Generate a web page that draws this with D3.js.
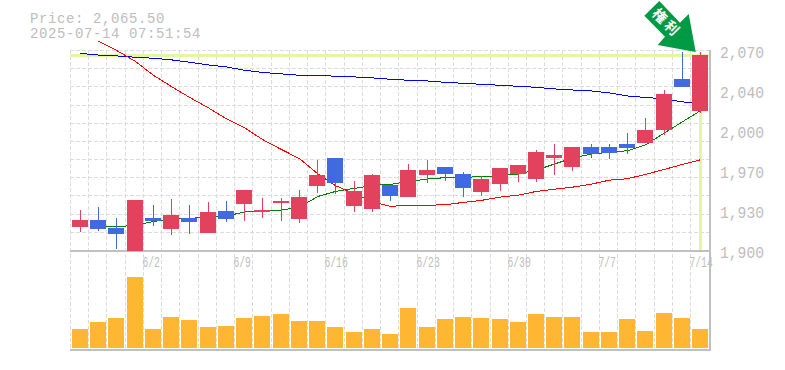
<!DOCTYPE html>
<html>
<head>
<meta charset="utf-8">
<script src="https://d3js.org/d3.v7.min.js"></script>
<style>
body { margin: 0; background: #fff; }
svg { display: block; }
text { font-family: "Liberation Mono", monospace; fill: #bdbdbd; }
</style>
</head>
<body>
<script>
// Data
var dates = ["5/27","5/28","5/29","5/30","6/2","6/3","6/4","6/5","6/6","6/9","6/10","6/11","6/12","6/13","6/16","6/17","6/18","6/19","6/20","6/23","6/24","6/25","6/26","6/27","6/30","7/1","7/2","7/3","7/4","7/7","7/8","7/9","7/10","7/11","7/14"];
var xLabels = ["6/2","6/9","6/16","6/23","6/30","7/7","7/14"];
var yLabels = ["1,900","1,930","1,970","2,000","2,040","2,070"];

var open = [1919.5,1925.5,1919,1899,1927.2,1917.8,1927.2,1914.5,1933.1,1939.1,1932.3,1940,1926.3,1954.4,1978.2,1937.4,1934.8,1955.2,1945,1963.8,1970.5,1964.6,1949.3,1956.1,1964.6,1960.3,1978.2,1970.5,1987.5,1987.5,1990.1,1991,2002,2045.3,2018.4];
var close = [1925.5,1917.8,1913.6,1942.5,1924.6,1929.8,1923.8,1932.3,1926.3,1951,1934,1941.6,1945,1963.8,1957,1950.1,1963.8,1945.9,1968,1968,1964.6,1952.7,1960.3,1969.7,1972.2,1983.3,1980.8,1987.5,1981.6,1982.4,1986.7,2002,2032.6,2038.5,2065.5];
var high = [1934,1936.5,1927.2,1942.5,1938.2,1943.4,1938.2,1940.8,1941.6,1951,1944.2,1944.2,1951,1976.5,1978.2,1958.6,1964.6,1955.2,1973.1,1976.5,1970.5,1966.3,1962.9,1969.7,1972.2,1985,1990.1,1987.5,1990.1,1990.1,1999.4,2012.2,2036,2068.3,2068.3];
var low = [1915.3,1916.1,1900.8,1899,1920.4,1912.8,1913.6,1914.5,1923.8,1924.6,1927.2,1924.6,1922.9,1948.4,1947.6,1932.3,1932.3,1941.6,1945,1957,1958.6,1945,1945.9,1950.1,1957.8,1957.8,1963.8,1967.1,1978.2,1977.3,1981.6,1991,1997.8,2038.5,2016.4];
var volume = [19000,26000,30000,71000,19000,31000,28000,21000,22000,30000,32000,34000,27000,27000,21000,16000,19000,14000,40000,21000,29000,31000,30000,29000,26000,34000,31000,31000,16000,16000,29000,17000,35000,30000,19000];

// moving averages, null where the line has not started
var maShort = [null,1920.9,1919.5,1921.2,1924.2,1926.4,1926.4,1928.9,1928.9,1932.3,1933.2,1934,1936.4,1945.4,1949.8,1952.4,1954.9,1955.8,1958.1,1960.4,1961.5,1961.5,1962.6,1963.1,1964.6,1968,1973.1,1978.2,1981.6,1983,1984.4,1989.3,1999.5,2009,2018.4];
var maMid = [null,2077.3,2069.7,2060.3,2048.5,2038.9,2029.8,2020.8,2011.5,2004,1993.9,1985.4,1977.7,1964.9,1954.7,1947.7,1940.9,1937.1,1938,1938,1938.5,1940.5,1942.2,1945,1946.7,1949.8,1951.7,1953.4,1956,1959.4,1960.6,1964.3,1968.5,1972.8,1976.7];
var maLong = [2067.1,2065.7,2065,2063.8,2063,2061.6,2059.6,2057.3,2055.6,2052.8,2050.9,2049.7,2048.5,2048.5,2047.7,2047.1,2046.3,2045.1,2044.3,2043.7,2042.5,2041.7,2040.8,2040,2039.1,2038.3,2036.9,2036,2035.2,2033.5,2030.9,2029.7,2028.4,2025.9,2024.6];

var lastPrice = 2065.5;

function init() {
    var w = 785;
    var h = 370;
    var priceTicks = d3.range(12).map(function(i) { return 1900 + i * 170 / 11; });
    var labelTicks = d3.range(6).map(function(i) { return 1900 + i * 34; });

    var svg = d3.select("body")
        .append("svg")
        .attr("width", w)
        .attr("height", h);

    // Scales
    var xScale = d3.scaleBand()
        .domain(dates)
        .range([70, 708.4]);

    var yScale = d3.scaleLinear()
        .domain([1900, 2070])
        .range([250, 50]);

    var volScale = d3.scaleLinear()
        .domain([0, 100000])
        .range([348, 248]);

    function gridX(d) { return Math.round(xScale(d)) + 0.5; }
    function midX(d) { return Math.round(xScale(d)) + 10.5; }

    // Grid
    var grid = svg.append("g")
        .attr("stroke", "#dcdcdc")
        .attr("stroke-dasharray", "4,2")
        .attr("shape-rendering", "crispEdges");

    grid.selectAll("line.h")
        .data(priceTicks)
        .enter()
        .append("line")
        .attr("class", "h")
        .attr("x1", 70)
        .attr("x2", 709)
        .attr("y1", function(d) { return Math.round(yScale(d)) + 0.5; })
        .attr("y2", function(d) { return Math.round(yScale(d)) + 0.5; });

    grid.selectAll("line.v")
        .data(dates)
        .enter()
        .append("line")
        .attr("class", "v")
        .attr("x1", gridX)
        .attr("x2", gridX)
        .attr("y1", 50)
        .attr("y2", 350);

    // Panel edges
    var edges = svg.append("g")
        .attr("stroke", "#c0c0c0")
        .attr("stroke-width", 2)
        .attr("shape-rendering", "crispEdges");
    edges.append("line").attr("x1", 70).attr("x2", 711).attr("y1", 251).attr("y2", 251);
    edges.append("line").attr("x1", 70).attr("x2", 711).attr("y1", 350).attr("y2", 350);
    edges.append("line").attr("x1", 710).attr("x2", 710).attr("y1", 50).attr("y2", 351);

    // Crosshair on the last price
    var lime = "#e4f5a5";
    var cross = svg.append("g")
        .attr("stroke", lime)
        .attr("stroke-width", 3)
        .attr("shape-rendering", "crispEdges");
    cross.append("line")
        .attr("x1", 70).attr("x2", 709)
        .attr("y1", Math.round(yScale(lastPrice)) + 0.5).attr("y2", Math.round(yScale(lastPrice)) + 0.5);
    cross.append("line")
        .attr("x1", midX(dates[34])).attr("x2", midX(dates[34]))
        .attr("y1", yScale(2068.3)).attr("y2", 250);

    // Moving averages
    function drawLine(values, color) {
        var line = d3.line()
            .defined(function(d) { return d !== null; })
            .x(function(d, i) { return midX(dates[i]); })
            .y(function(d) { return yScale(d); });
        svg.append("path")
            .attr("d", line(values))
            .attr("fill", "none")
            .attr("stroke", color)
            .attr("stroke-width", 1)
            .attr("shape-rendering", "crispEdges");
    }
    drawLine(maLong, "#0000ff");
    drawLine(maMid, "#ff0000");
    drawLine(maShort, "#008000");

    // Candles
    var up = "#e3425f";
    var down = "#4169e1";
    function candleColor(i) { return close[i] >= open[i] ? up : down; }

    var candles = svg.append("g").attr("shape-rendering", "crispEdges");

    candles.selectAll("line")
        .data(dates)
        .enter()
        .append("line")
        .attr("x1", midX)
        .attr("x2", midX)
        .attr("y1", function(d, i) { return yScale(high[i]); })
        .attr("y2", function(d, i) { return yScale(low[i]); })
        .attr("stroke", function(d, i) { return candleColor(i); });

    candles.selectAll("rect")
        .data(dates)
        .enter()
        .append("rect")
        .attr("x", function(d) { return Math.round(xScale(d)) + 2; })
        .attr("y", function(d, i) { return yScale(Math.max(open[i], close[i])); })
        .attr("width", 16)
        .attr("height", function(d, i) { return Math.abs(yScale(open[i]) - yScale(close[i])); })
        .attr("fill", function(d, i) { return candleColor(i); });

    // Volume
    svg.append("g")
        .attr("shape-rendering", "crispEdges")
        .selectAll("rect")
        .data(volume)
        .enter()
        .append("rect")
        .attr("x", function(d, i) { return Math.round(xScale(dates[i])) + 2; })
        .attr("y", function(d) { return volScale(d); })
        .attr("width", 16)
        .attr("height", function(d) { return volScale(0) - volScale(d); })
        .attr("fill", "#ffb733");

    // Labels, squeezed to the narrow tall look of the original
    svg.selectAll("text.xlabel")
        .data(xLabels)
        .enter()
        .append("text")
        .attr("class", "xlabel")
        .attr("x", function(d) { return Math.round(xScale(d)) - 0.5; })
        .attr("y", 267)
        .attr("textLength", function(d) { return d.length * 5.8; })
        .attr("lengthAdjust", "spacingAndGlyphs")
        .style("font-size", "15px")
        .text(function(d) { return d; });

    svg.selectAll("text.ylabel")
        .data(yLabels)
        .enter()
        .append("text")
        .attr("class", "ylabel")
        .attr("x", 720)
        .attr("y", function(d, i) { return yScale(labelTicks[i]) + 8; })
        .attr("textLength", 44)
        .attr("lengthAdjust", "spacingAndGlyphs")
        .style("font-size", "16px")
        .text(function(d) { return d; });

    svg.append("text").attr("x", 30).attr("y", 23).style("font-size", "14px").style("letter-spacing", "0.6px").text("Price: 2,065.50");
    svg.append("text").attr("x", 30).attr("y", 38).style("font-size", "14px").style("letter-spacing", "0.6px").text("2025-07-14 07:51:54");

    // Arrow marker
    var arrow = svg.append("g");
    arrow.append("path")
        .attr("d", "M659.3,1L644.3,15.7L665,36.7L657.7,45L695.7,52L688.7,14L680,22.7Z")
        .attr("fill", "#009944");
    arrow.append("text")
        .attr("transform", "translate(666.7,23) rotate(45)")
        .attr("text-anchor", "middle")
        .attr("y", 5)
        .style("font-family", "'Noto Sans CJK JP'")
        .style("font-weight", "bold")
        .style("font-size", "14px")
        .style("letter-spacing", "3px")
        .style("fill", "#fff")
        .text("権利");
}

window.onload = init;
</script>
</body>
</html>
